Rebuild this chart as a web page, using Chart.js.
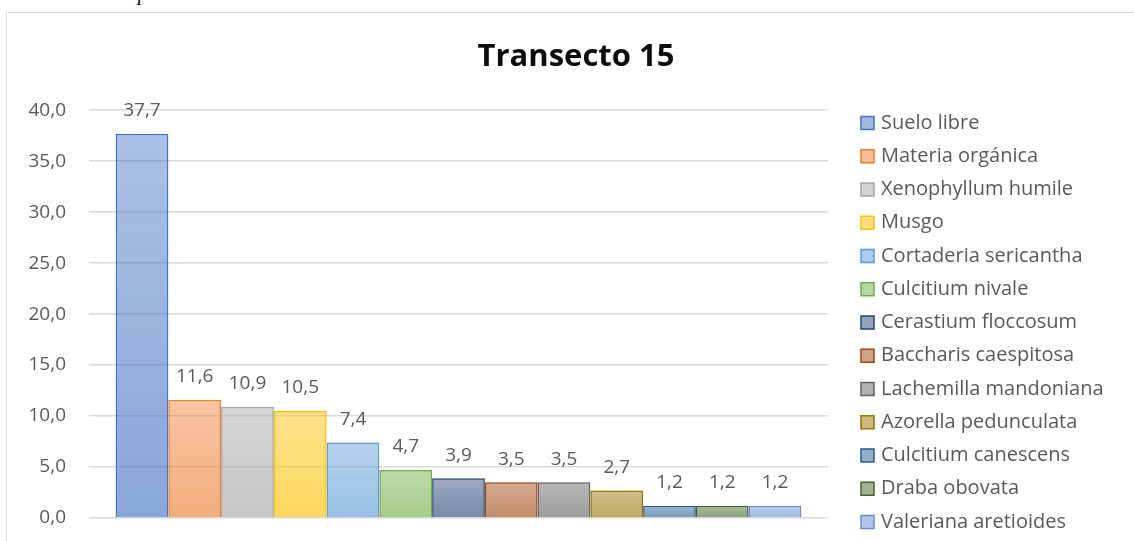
<!DOCTYPE html>
<html>
<head>
<meta charset="utf-8">
<script src="https://cdn.jsdelivr.net/npm/chart.js@4.4.1/dist/chart.umd.min.js"></script>
<style>
html, body { margin: 0; padding: 0; background: #fff; width: 1134px; height: 541px; overflow: hidden; }
#caption { position: absolute; left: 100px; top: -17px; font: italic 20px/20px "Liberation Serif", serif; color: #000; white-space: nowrap; }
#frame { position: absolute; left: 6px; top: 12px; width: 1170px; height: 580px; border: 1px solid #d9d9d9; box-sizing: border-box; }
#wrap { position: absolute; left: 6px; top: 12px; width: 1140px; height: 560px; }
</style>
</head>
<body>
<div id="caption">Comparación del transecto 15</div>
<div id="frame"></div>
<div id="wrap"><canvas id="canvasT"></canvas></div>
<script>
'use strict';

// datos
const categories = [''];
const species = ['Suelo libre', 'Materia orgánica', 'Xenophyllum humile', 'Musgo',
    'Cortaderia sericantha', 'Culcitium nivale', 'Cerastium floccosum', 'Baccharis caespitosa',
    'Lachemilla mandoniana', 'Azorella pedunculata', 'Culcitium canescens', 'Draba obovata',
    'Valeriana aretioides'];
const cover = [37.7, 11.6, 10.9, 10.5, 7.4, 4.7, 3.9, 3.5, 3.5, 2.7, 1.2, 1.2, 1.2];
const yMax = 40;
const yStep = 5;

// colores de borde (tema Office)
const edgeColors = ['#4472C4', '#ED7D31', '#A5A5A5', '#FFC000', '#5B9BD5', '#70AD47',
    '#264478', '#9E480E', '#636363', '#997300', '#255E91', '#43682B', '#698ED0'];

const FONT = '"Open Sans"';
const GREY = '#595959';

function rgba(hex, a){
    const n = parseInt(hex.slice(1), 16);
    return 'rgba(' + (n >> 16) + ',' + ((n >> 8) & 255) + ',' + (n & 255) + ',' + a + ')';
}

function fmt(v){
    return Number(v).toFixed(1).replace('.', ',');
}

// degradado vertical por barra, más claro arriba
function barFill(i){
    return function(ctx){
        const chart = ctx.chart;
        const y = chart.scales && chart.scales.y;
        if (!y || !chart.chartArea) return rgba(edgeColors[i], 0.5);
        const top = y.getPixelForValue(cover[i]);
        const bottom = y.getPixelForValue(0);
        const g = chart.ctx.createLinearGradient(0, top, 0, bottom);
        g.addColorStop(0, rgba(edgeColors[i], 0.45));
        g.addColorStop(1, rgba(edgeColors[i], 0.63));
        return g;
    };
}

const valueLabels = {
    id: 'valueLabels',
    afterDatasetsDraw(chart){
        const ctx = chart.ctx;
        ctx.save();
        ctx.font = '19px ' + FONT;
        ctx.fillStyle = GREY;
        ctx.textAlign = 'center';
        ctx.textBaseline = 'middle';
        chart.data.datasets.forEach((ds, i) => {
            const bar = chart.getDatasetMeta(i).data[0];
            ctx.fillText(fmt(ds.data[0]), bar.x, bar.y - 23);
        });
        ctx.restore();
    }
};

// leyenda a la derecha, una sola columna como en Excel
const sideLegend = {
    id: 'sideLegend',
    afterDraw(chart){
        const ctx = chart.ctx;
        const boxX = chart.chartArea.right + 33;
        const rowH = 33.25;
        const firstY = 111;
        ctx.save();
        ctx.font = '20px ' + FONT;
        ctx.textAlign = 'left';
        ctx.textBaseline = 'middle';
        chart.data.datasets.forEach((ds, i) => {
            const cy = firstY + i * rowH;
            ctx.fillStyle = rgba(edgeColors[i], 0.5);
            ctx.fillRect(boxX, cy - 6.5, 13, 13);
            ctx.strokeStyle = edgeColors[i];
            ctx.lineWidth = 1.5;
            ctx.strokeRect(boxX, cy - 6.5, 13, 13);
            ctx.fillStyle = GREY;
            ctx.fillText(ds.label, boxX + 20, cy);
        });
        ctx.restore();
    }
};

const datasets = species.map((name, i) => ({
    label: name,
    data: [cover[i]],
    backgroundColor: barFill(i),
    borderColor: edgeColors[i],
    borderWidth: 1.5,
    categoryPercentage: 0.928,
    barPercentage: 1
}));

const config = {
    type: 'bar',
    data: { labels: categories, datasets: datasets },
    options: {
        responsive: true,
        maintainAspectRatio: false,
        animation: false,
        layout: { padding: 0 },
        scales: {
            x: {
                display: true,
                grid: { display: false },
                border: { display: false },
                ticks: { display: false },
                afterFit: s => { s.height = 54; }
            },
            y: {
                min: 0,
                max: yMax,
                ticks: {
                    stepSize: yStep,
                    padding: 23,
                    color: GREY,
                    font: { family: FONT, size: 19 },
                    callback: v => fmt(v)
                },
                grid: { color: '#d9d9d9', lineWidth: 1.5, drawTicks: false },
                border: { display: false },
                afterFit: s => { s.width = 83; }
            },
            legendSpace: {
                position: 'right',
                display: true,
                grid: { display: false },
                border: { display: false },
                ticks: { display: false },
                afterFit: s => { s.width = 318; }
            }
        },
        plugins: {
            title: {
                display: true,
                text: 'Transecto 15',
                color: '#0d0d0d',
                font: { family: FONT, size: 31, weight: 'bold' },
                padding: { top: 27, bottom: 34 }
            },
            legend: { display: false },
            tooltip: { enabled: false }
        }
    },
    plugins: [valueLabels, sideLegend]
};

const ctxT = document.querySelector('#canvasT').getContext('2d');
let chartT = new Chart(ctxT, config);
</script>
</body>
</html>
